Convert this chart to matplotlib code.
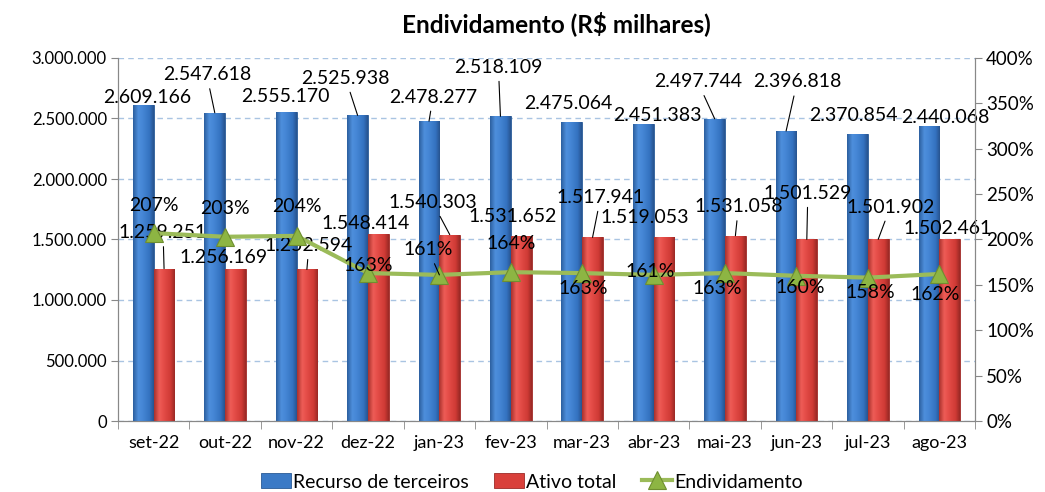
import matplotlib
matplotlib.use("Agg")
import matplotlib.pyplot as plt
import numpy as np
from matplotlib.ticker import FuncFormatter, MultipleLocator
from matplotlib.colors import LinearSegmentedColormap

months = ["set-22", "out-22", "nov-22", "dez-22", "jan-23", "fev-23",
          "mar-23", "abr-23", "mai-23", "jun-23", "jul-23", "ago-23"]
recurso_terceiros = [2609166, 2547618, 2555170, 2525938, 2478277, 2518109,
                     2475064, 2451383, 2497744, 2396818, 2370854, 2440068]
ativo_total = [1259251, 1256169, 1252594, 1548414, 1540303, 1531652,
               1517941, 1519053, 1531058, 1501529, 1501902, 1502461]
endividamento = [207, 203, 204, 163, 161, 164, 163, 161, 163, 160, 158, 162]

# label placement (pixel offsets from anchor; leader flag)
blue_off = [(4, 8, 0), (-8, 38, 1), (-1, 15, 0), (-12, 37, 1), (4, 24, 1), (-2, 49, 1),
            (-4, 18, 0), (14, 9, 0), (-17, 37, 1), (11, 49, 1), (-4, 19, 0), (16, 8, 0)]
red_off = [(-1, 36, 1), (-12, 12, 0), (2, 24, 1), (-13, 10, 0), (-17, 32, 1), (-8, 19, 0),
           (8, 40, 1), (-19, 20, 0), (3, 29, 1), (1, 46, 1), (12, 32, 1), (-2, 11, 0)]
line_off = [(0, 28, 0), (0, 28, 0), (0, 29, 0), (0, 8, 0), (-11, 25, 1), (0, 29, 0),
            (1, -15, 0), (-3, 3, 0), (-8, -15, 0), (4, -12, 0), (2, -15, 0), (-4, -21, 0)]

FONT = "Lato"
plt.rcParams['font.family'] = [FONT, 'DejaVu Sans']

def br(v):
    return f"{int(v):,}".replace(",", ".")

fig = plt.figure(figsize=(10.45, 4.92), dpi=100)
ax = fig.add_axes([118/1045, 1-421/492, (975-118)/1045, (421-58)/492])
ax2 = ax.twinx()

x = np.arange(len(months))
w = 0.29
blue = "#3B7AC6"
red = "#D9403B"
green = "#9BBB59"

bars_b = ax.bar(x - w/2, recurso_terceiros, w, color=blue, edgecolor="#2A5A96", linewidth=0.6,
                label="Recurso de terceiros", zorder=3)
bars_r = ax.bar(x + w/2, ativo_total, w, color=red, edgecolor="#9E2B27", linewidth=0.6,
                label="Ativo total", zorder=3)

cm_b = LinearSegmentedColormap.from_list("b", [(0, "#2C5F9F"), (0.25, "#4E8FDC"), (0.45, "#4687D6"),
                                               (0.8, "#3472C0"), (1, "#27548F")])
cm_r = LinearSegmentedColormap.from_list("r", [(0, "#A9312D"), (0.25, "#EE5D57"), (0.45, "#E54D48"),
                                               (0.8, "#CF3A35"), (1, "#9A2925")])
grad = np.linspace(0, 1, 64).reshape(1, -1)
for bars, cm in ((bars_b, cm_b), (bars_r, cm_r)):
    for p in bars:
        x0, y0 = p.get_x(), p.get_y()
        im = ax.imshow(grad, cmap=cm, extent=(x0, x0 + p.get_width(), y0, y0 + p.get_height()),
                       aspect='auto', interpolation='bilinear', zorder=3.1)
        im.set_clip_path(p)

ax.set_xlim(-0.5, len(months) - 0.5)
ax.set_ylim(0, 3000000)
ax.set_aspect('auto')
ax.yaxis.set_major_locator(MultipleLocator(500000))
ax.yaxis.set_major_formatter(FuncFormatter(lambda v, p: br(v)))
ax.grid(axis='y', color="#A9C4E2", linestyle=(0, (4, 3)), linewidth=1, zorder=0)
ax.set_axisbelow(True)

ax.set_xticks(x)
ax.set_xticklabels(months)
ax.set_xticks(np.arange(-0.5, len(months)), minor=True)
ax.tick_params(axis='x', which='major', length=0, pad=10, labelsize=13)
ax.tick_params(axis='x', which='minor', length=6, color="#888888", direction='out')
ax.tick_params(axis='y', length=5, color="#888888", labelsize=12, pad=3)

ax2.set_ylim(0, 400)
ax2.yaxis.set_major_locator(MultipleLocator(50))
ax2.yaxis.set_major_formatter(FuncFormatter(lambda v, p: f"{int(v)}%"))
ax2.tick_params(axis='y', length=5, color="#888888", labelsize=13.5, pad=3)

for a in (ax, ax2):
    a.spines['top'].set_visible(False)
    for s in ('left', 'right', 'bottom'):
        a.spines[s].set_color("#888888")

ax2.plot(x, endividamento, color=green, linewidth=3, marker='^', markersize=13,
         markerfacecolor="#8DB543", markeredgecolor="#6F8F30", markeredgewidth=0.8,
         label="Endividamento", zorder=5)

lab_fs = 14
def put(axis, xs, ys, texts, offs):
    for xi, yi, t, (dx, dy, lead) in zip(xs, ys, texts, offs):
        kw = {}
        if lead:
            kw['arrowprops'] = dict(arrowstyle='-', color='black', lw=0.8, shrinkA=2, shrinkB=0)
        axis.annotate(t, xy=(xi, yi), xytext=(dx, dy), textcoords='offset pixels',
                      ha='center', va='center', fontsize=lab_fs, zorder=10,
                      annotation_clip=False, **kw)

put(ax, x - w/2, recurso_terceiros, [br(v) for v in recurso_terceiros], blue_off)
put(ax, x + w/2, ativo_total, [br(v) for v in ativo_total], red_off)
put(ax2, x, endividamento, [f"{v}%" for v in endividamento], line_off)

fig.text(556/1045, 1 - 24/492, "Endividamento (R$ milhares)", ha='center', va='center',
         fontsize=17.5, fontweight='bold')

h1, l1 = ax.get_legend_handles_labels()
h2, l2 = ax2.get_legend_handles_labels()
fig.legend(h1 + h2, l1 + l2, loc='center', bbox_to_anchor=(532/1045, 1 - 482/492), ncol=3,
           frameon=False, fontsize=14, handlelength=1.55, handleheight=0.8, handletextpad=0.1,
           columnspacing=1.3, borderpad=0.2)

fig.savefig("out.png", dpi=100)
